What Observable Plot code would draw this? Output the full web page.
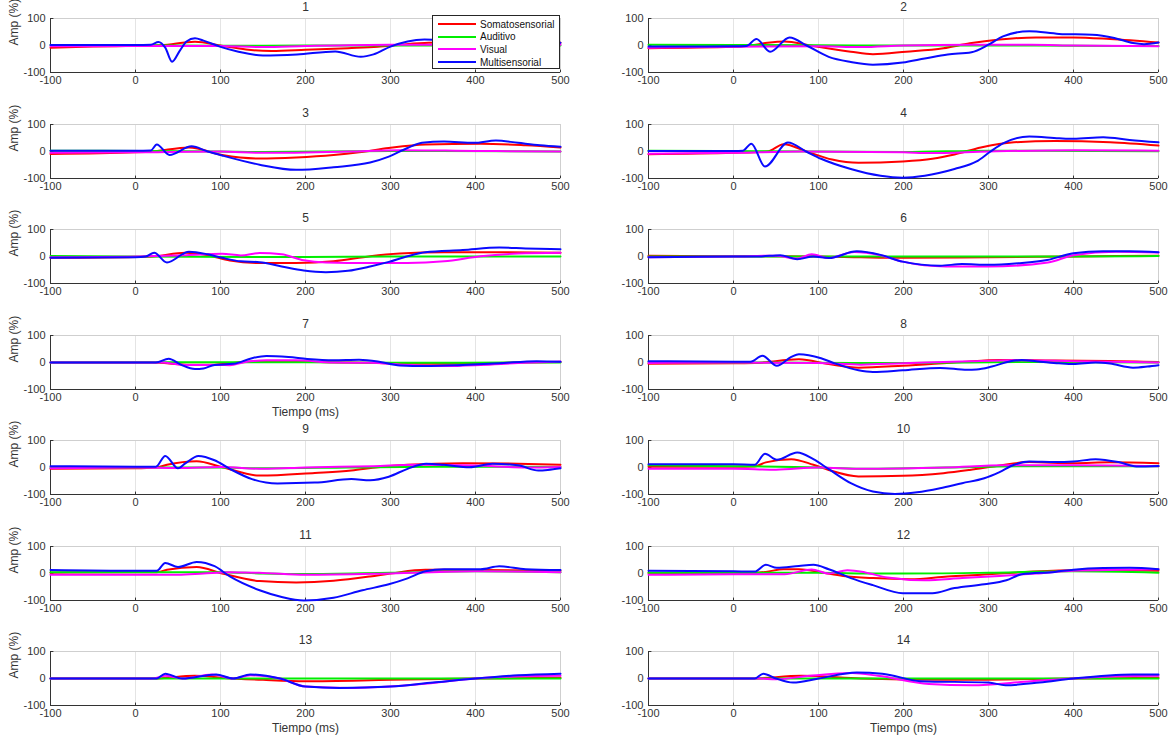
<!DOCTYPE html>
<html>
<head>
<meta charset="utf-8">
<script src="https://cdn.jsdelivr.net/npm/d3@7"></script>
<script src="https://cdn.jsdelivr.net/npm/@observablehq/plot@0.6"></script>
<style>
  body { margin: 0; background: #fff; }
  #fig { position: relative; width: 1172px; height: 736px; overflow: hidden; background: #fff;
         font-family: "Liberation Sans", Arial, sans-serif; }
  #fig svg { position: absolute; }
  .legend { position: absolute; background: #fff; border: 1px solid #262626; box-sizing: border-box;
            font-size: 10px; color: #111; padding-top: 2px; }
  .legend .row { display: flex; align-items: center; height: 12.6px; }
  .legend .sw { width: 38px; height: 2px; margin: 0 4px 0 5px; }
</style>
</head>
<body>
<div id="fig"></div>
<script>
// Normalised response amplitude (%) over time (ms) for 14 recording sites,
// one trace per stimulation condition. Each trace is a list of [time, amplitude] knots.
const conditions = ["Somatosensorial", "Auditivo", "Visual", "Multisensorial"];
const conditionColors = ["#ff0000", "#00ee00", "#ff00ff", "#0a0aff"];
const panelTitles = ["1","2","3","4","5","6","7","8","9","10","11","12","13","14"];
const xTicks = [-100, 0, 100, 200, 300, 400, 500];
const yTicks = [-100, 0, 100];
const timeAxisPanels = ["7", "13", "14"];

const somatosensorial = [
  [[-100,-8],[-50,-4],[0,-1],[30,1],[70,14],[100,0],[130,-15],[160,-20],[200,-16],[250,-10],[285,-5],[315,4],[345,10],[400,12],[500,10]],
  [[-100,-10],[0,-5],[20,0],[40,10],[60,15],[90,0],[138,-23],[164,-32],[203,-23],[247,-10],[278,8],[313,22],[356,30],[400,30],[443,24],[500,11]],
  [[-100,-9],[0,-3],[20,0],[63,15],[102,-13],[146,-26],[189,-22],[233,-13],[263,-3],[298,13],[341,26],[406,29],[459,23],[500,15]],
  [[-100,-10],[0,-5],[40,0],[59,27],[86,0],[116,-30],[147,-42],[199,-37],[234,-27],[260,-11],[291,15],[330,34],[378,39],[443,34],[500,22]],
  [[-100,-5],[0,-2],[20,0],[59,14],[85,5],[111,-15],[146,-24],[189,-24],[233,-18],[276,1],[311,11],[363,16],[428,16],[500,14]],
  [[-100,3],[0,1],[100,0],[150,-3],[200,-5],[300,-3],[400,0],[500,3]],
  [[-100,0],[20,0],[60,-8],[90,-8],[110,-3],[150,5],[250,0],[350,-5],[450,0],[500,2]],
  [[-100,-5],[0,-3],[25,-2],[77,12],[112,-6],[147,-19],[199,-12],[269,2],[313,9],[378,7],[443,6],[500,2]],
  [[-100,-5],[0,-3],[24,0],[37,10],[72,23],[102,1],[146,-30],[211,-20],[254,-11],[285,1],[320,10],[385,16],[450,14],[500,10]],
  [[-100,3],[0,3],[25,4],[38,19],[68,31],[94,10],[112,-9],[147,-33],[199,-31],[247,-21],[278,-9],[313,7],[348,20],[400,16],[443,19],[500,16]],
  [[-100,3],[0,5],[25,5],[37,14],[72,24],[102,0],[146,-28],[189,-33],[233,-27],[276,-11],[302,1],[341,14],[406,13],[500,10]],
  [[-100,2],[25,3],[38,6],[59,16],[77,16],[103,4],[129,-9],[164,-17],[208,-21],[252,-11],[295,-4],[335,4],[400,12],[500,10]],
  [[-100,0],[20,0],[70,10],[100,3],[150,-5],[200,-10],[300,-5],[400,0],[500,3]],
  [[-100,0],[20,0],[80,10],[150,0],[250,-5],[400,0],[500,3]]
];

const auditivo = [
  [[-100,2],[0,1],[100,-1],[200,0],[300,0],[400,0],[500,0]],
  [[-100,3],[100,1],[200,0],[300,0],[400,-1],[500,-2]],
  [[-100,3],[100,0],[150,-2],[300,2],[500,0]],
  [[-100,3],[100,0],[200,-2],[300,3],[500,1]],
  [[-100,2],[0,0],[200,-2],[300,0],[500,0]],
  [[-100,0],[100,0],[200,0],[300,0],[400,0],[500,2]],
  [[-100,0],[100,1],[200,1],[300,-1],[500,0]],
  [[-100,2],[0,0],[200,-2],[350,2],[500,0]],
  [[-100,0],[100,0],[150,-3],[250,0],[350,3],[500,2]],
  [[-100,8],[0,5],[100,0],[150,-5],[250,0],[350,5],[500,5]],
  [[-100,5],[100,5],[150,0],[200,-2],[300,3],[400,8],[500,5]],
  [[-100,3],[100,3],[150,0],[200,0],[300,3],[400,8],[500,3]],
  [[-100,0],[200,0],[300,0],[500,0]],
  [[-100,0],[200,0],[300,0],[500,0]]
];

const visual = [
  [[-100,-3],[0,-2],[100,-2],[150,-6],[200,-2],[300,3],[400,3],[500,3]],
  [[-100,-8],[0,-5],[100,-3],[150,-6],[200,0],[280,3],[350,3],[400,0],[500,-3]],
  [[-100,-5],[0,-3],[100,0],[150,-5],[250,0],[310,5],[400,2],[500,0]],
  [[-100,-8],[0,-5],[80,0],[200,-3],[230,-6],[300,0],[400,5],[500,3]],
  [[-100,-3],[0,0],[60,5],[102,10],[124,4],[146,13],[172,8],[198,-14],[224,-22],[276,-24],[320,-24],[363,-18],[406,1],[450,11],[500,14]],
  [[-100,-3],[0,0],[50,3],[75,-8],[92,8],[112,-6],[142,17],[173,5],[199,-19],[250,-37],[300,-37],[370,-22],[400,5],[450,18],[500,15]],
  [[-100,0],[30,0],[59,-9],[98,-9],[111,-10],[128,1],[154,8],[189,8],[233,0],[276,-1],[320,-9],[363,-13],[406,-9],[450,-2],[500,4]],
  [[-100,-2],[0,0],[100,-2],[150,-8],[200,-3],[280,5],[330,8],[400,5],[500,0]],
  [[-100,-3],[0,0],[50,-2],[100,2],[150,-5],[200,0],[280,5],[330,10],[400,7],[460,0],[500,2]],
  [[-100,-5],[0,-5],[50,-8],[100,0],[150,-5],[250,0],[320,8],[400,8],[500,5]],
  [[-100,-5],[50,-5],[80,0],[110,5],[150,2],[200,-5],[300,0],[400,8],[500,5]],
  [[-100,-5],[0,-3],[60,-3],[92,15],[112,0],[134,12],[155,4],[181,-15],[225,-25],[269,-17],[313,-9],[356,0],[400,10],[500,16]],
  [[-100,0],[20,0],[35,10],[55,0],[90,15],[115,0],[135,12],[170,0],[200,-30],[250,-35],[320,-25],[400,0],[450,8],[500,10]],
  [[-100,0],[30,0],[50,-3],[90,10],[140,20],[170,10],[230,-20],[280,-25],[350,-10],[400,0],[450,8],[500,10]]
];

const multisensorial = [
  [[-100,2],[0,2],[18,3],[27,13],[35,-8],[43,-60],[52,-20],[60,15],[70,27],[80,18],[100,-5],[120,-22],[150,-37],[190,-33],[235,-22],[265,-42],[280,-33],[300,-4],[320,15],[340,22],[360,20],[400,15],[500,10]],
  [[-100,-4],[0,-3],[15,-2],[27,24],[43,-23],[66,30],[86,0],[112,-42],[138,-61],[164,-71],[199,-63],[225,-48],[252,-33],[280,-25],[300,3],[317,34],[348,53],[383,43],[422,40],[448,28],[470,9],[483,5],[500,11]],
  [[-100,3],[0,3],[18,4],[25,26],[40,-13],[66,19],[85,0],[102,-15],[146,-49],[189,-68],[233,-58],[276,-41],[298,-19],[320,13],[337,32],[363,37],[398,32],[424,41],[450,32],[476,23],[500,18]],
  [[-100,2],[0,2],[11,3],[21,29],[37,-56],[64,33],[86,-1],[103,-27],[138,-65],[173,-90],[199,-97],[225,-90],[260,-65],[286,-37],[302,-1],[317,30],[348,56],[383,49],[400,47],[435,53],[466,43],[500,34]],
  [[-100,-5],[0,-3],[12,0],[22,14],[37,-22],[63,18],[85,8],[102,-5],[124,-18],[146,-21],[172,-37],[198,-52],[224,-58],[250,-53],[276,-37],[298,-20],[320,1],[341,16],[385,24],[428,33],[459,30],[500,27]],
  [[-100,-3],[0,0],[30,0],[55,5],[75,-10],[94,0],[112,-6],[145,19],[173,6],[199,-19],[243,-34],[269,-28],[300,-31],[335,-25],[369,-13],[400,12],[435,19],[466,19],[500,16]],
  [[-100,0],[24,0],[39,14],[54,-9],[70,-24],[80,-22],[93,-9],[115,-5],[137,16],[154,24],[180,20],[202,13],[233,8],[263,10],[285,4],[311,-11],[341,-13],[385,-9],[428,-3],[472,5],[500,3]],
  [[-100,5],[0,3],[20,3],[34,25],[51,-12],[68,21],[77,31],[103,16],[120,-4],[147,-29],[164,-35],[199,-29],[243,-20],[275,-27],[286,-26],[304,-15],[326,5],[339,9],[356,5],[383,-3],[400,-6],[426,0],[443,-4],[470,-19],[487,-15],[500,-10]],
  [[-100,5],[0,3],[24,3],[35,43],[50,-3],[59,16],[74,43],[93,27],[111,-5],[137,-43],[167,-59],[211,-56],[254,-43],[276,-47],[298,-34],[320,-5],[342,14],[363,10],[393,1],[420,14],[450,8],[474,-11],[485,-9],[500,-3]],
  [[-100,12],[0,12],[25,10],[37,51],[51,29],[75,56],[94,31],[112,-6],[138,-58],[164,-89],[190,-98],[216,-92],[243,-77],[269,-58],[295,-40],[313,-17],[330,10],[348,22],[378,20],[400,22],[426,31],[453,20],[474,4],[500,6]],
  [[-100,13],[0,10],[25,10],[35,39],[50,24],[72,43],[93,27],[111,-11],[146,-62],[172,-87],[198,-100],[233,-90],[267,-62],[298,-40],[320,-18],[341,8],[363,16],[406,16],[428,27],[459,16],[500,13]],
  [[-100,10],[0,8],[25,7],[38,32],[51,21],[77,28],[94,32],[112,16],[138,-17],[164,-43],[199,-73],[234,-73],[260,-54],[295,-40],[321,-25],[339,-3],[378,6],[400,14],[435,20],[466,21],[500,16]],
  [[-100,0],[25,0],[35,18],[55,0],[95,15],[115,0],[135,15],[170,0],[200,-30],[240,-35],[300,-30],[350,-15],[400,0],[450,12],[500,18]],
  [[-100,0],[25,0],[35,18],[50,0],[70,-15],[100,0],[145,22],[175,18],[220,-10],[300,-15],[320,-25],[360,-15],[400,0],[470,15],[500,15]]
];

const traces = [somatosensorial, auditivo, visual, multisensorial];
const fig = document.getElementById("fig");
const fmt = d => String(d);

// geometry of the 7 x 2 grid of panels
const M = {left: 50, right: 12, top: 20, bottom: 34};
const innerW = 510;
const innerH = 54;

panelTitles.forEach((title, i) => {
  const col = i % 2, row = Math.floor(i / 2);
  const plotLeft = col ? 648 : 50;
  const plotTop = 45 + 105.5 * row - innerH / 2;

  const rows = traces.flatMap((set, k) =>
    set[i].map(([t, v]) => ({cond: conditions[k], t, v})));

  const marks = [
    Plot.ruleX(xTicks.slice(1, -1), {stroke: "#e4e4e4"}),
    Plot.frame({stroke: "#cfcfcf"}),
    Plot.ruleX(xTicks, {y1: -100, y2: -91, stroke: "#333"}),
    Plot.ruleY(yTicks, {x1: -100, x2: -96, stroke: "#333"}),
    Plot.ruleY([-100], {stroke: "#333"}),
    Plot.ruleX([-100], {stroke: "#333"}),
    Plot.line(rows, {x: "t", y: "v", z: "cond", stroke: "cond", strokeWidth: 2, curve: "monotone-x"}),
    Plot.text([title], {frameAnchor: "top", dy: -11, fontSize: 12, lineAnchor: "middle", fill: "#333"})
  ];
  if (col === 0) {
    marks.push(Plot.text(["Amp (%)"], {frameAnchor: "left", dx: -36, rotate: -90, fontSize: 12, fill: "#333"}));
  }
  if (timeAxisPanels.includes(title)) {
    marks.push(Plot.text(["Tiempo (ms)"], {frameAnchor: "bottom", dy: 23, fontSize: 12, lineAnchor: "middle", fill: "#333"}));
  }

  const svg = Plot.plot({
    width: M.left + innerW + M.right,
    height: M.top + innerH + M.bottom,
    marginLeft: M.left, marginRight: M.right, marginTop: M.top, marginBottom: M.bottom,
    style: {background: "none", fontFamily: "Liberation Sans, Arial, sans-serif", fontSize: "11px", color: "#333", overflow: "visible"},
    x: {domain: [-100, 500], ticks: xTicks, tickSize: 0, tickPadding: 4, tickFormat: fmt, label: null},
    y: {domain: [-100, 100], ticks: yTicks, tickSize: 0, tickPadding: 5, tickFormat: fmt, label: null},
    color: {domain: conditions, range: conditionColors},
    marks
  });
  svg.style.left = (plotLeft - M.left) + "px";
  svg.style.top = (plotTop - M.top) + "px";
  fig.appendChild(svg);
});

// legend box inside the first panel
const legend = document.createElement("div");
legend.className = "legend";
Object.assign(legend.style, {left: "432px", top: "15px", width: "128px", height: "54px"});
conditions.forEach((c, k) => {
  const r = document.createElement("div");
  r.className = "row";
  const sw = document.createElement("span");
  sw.className = "sw";
  sw.style.background = conditionColors[k];
  const tx = document.createElement("span");
  tx.textContent = c;
  r.append(sw, tx);
  legend.appendChild(r);
});
fig.appendChild(legend);
</script>
</body>
</html>
